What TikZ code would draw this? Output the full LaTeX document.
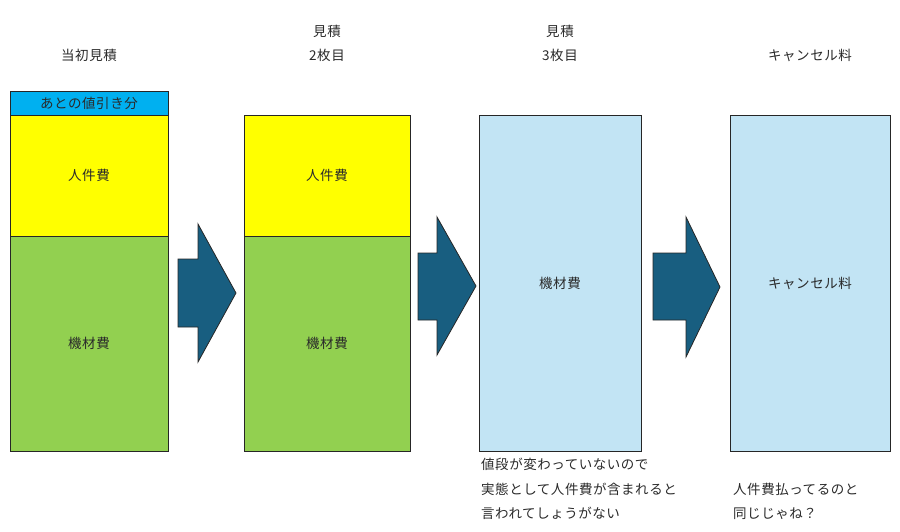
\documentclass[tikz,border=0pt]{standalone}
\usepackage{fontspec}
\setmainfont{Noto Sans CJK JP}[LetterSpace=4]
\definecolor{bandblue}{HTML}{00B0F0}
\definecolor{costyellow}{HTML}{FFFF00}
\definecolor{costgreen}{HTML}{92D050}
\definecolor{paleblue}{HTML}{C2E4F4}
\definecolor{arrowblue}{HTML}{185E80}
\definecolor{textgray}{HTML}{2A2A2A}
\tikzset{
	costbox/.style={draw=black!85, line width=0.8pt, inner sep=0pt, text=textgray},
	blockarrow/.style={draw=black!85, line width=0.8pt, fill=arrowblue, line join=miter},
	caption/.style={text=textgray, inner sep=0pt}
}
\begin{document}
\begin{tikzpicture}[x=1pt, y=-1pt, font=\fontsize{13.5}{16}\selectfont]
	\useasboundingbox (0,0) rectangle (900,531);
	
	% 1. Ô chi phí
	\node[costbox, fill=bandblue, minimum width=158, minimum height=24] (nebiki) at (89,103) {あとの値引き分};
	\node[costbox, fill=costyellow, minimum width=158, minimum height=121] (jinken1) at (89,175.5) {人件費};
	\node[costbox, fill=costgreen, minimum width=158, minimum height=215] (kizai1) at (89,343.5) {機材費};
	\node[costbox, fill=costyellow, minimum width=166, minimum height=121] (jinken2) at (327,175.5) {人件費};
	\node[costbox, fill=costgreen, minimum width=166, minimum height=215] (kizai2) at (327,343.5) {機材費};
	\node[costbox, fill=paleblue, minimum width=162, minimum height=336] (kizai3) at (560,283) {機材費};
	\node[costbox, fill=paleblue, minimum width=160, minimum height=336] (cancel) at (810,283) {キャンセル料};
	
	% 2. Tiêu đề
	\node[caption] (head1) at (89,55) {当初見積};
	\node[caption] (head2a) at (327,31) {見積};
	\node[caption] (head2b) at (327,55) {2枚目};
	\node[caption] (head3a) at (560,31) {見積};
	\node[caption] (head3b) at (560,55) {3枚目};
	\node[caption] (head4) at (810,55) {キャンセル料};
	
	% 3. Mũi tên khối
	\foreach \l/\st/\sb/\b/\ht/\hb/\tx/\ty in {178/259/327/198/224/362/236/293,
		418/253/320/437/217/355/476/286, 653/253/320/686/217/357/720/287} {
		\draw[blockarrow] (\l,\st) -- (\b,\st) -- (\b,\ht) -- (\tx,\ty) -- (\b,\hb) -- (\b,\sb) -- (\l,\sb) -- cycle;
	}
	
	% 4. Ghi chú
	\foreach \t [count=\i] in {値段が変わっていないので, 実態として人件費が含まれると, 言われてしょうがない} {
		\node[caption, anchor=west] (noteA\i) at (481,440+24.5*\i) {\t};
	}
	\foreach \t [count=\i] in {人件費払ってるのと, 同じじゃね？} {
		\node[caption, anchor=west] (noteB\i) at (733,464.5+24.5*\i) {\t};
	}
\end{tikzpicture}
\end{document}
